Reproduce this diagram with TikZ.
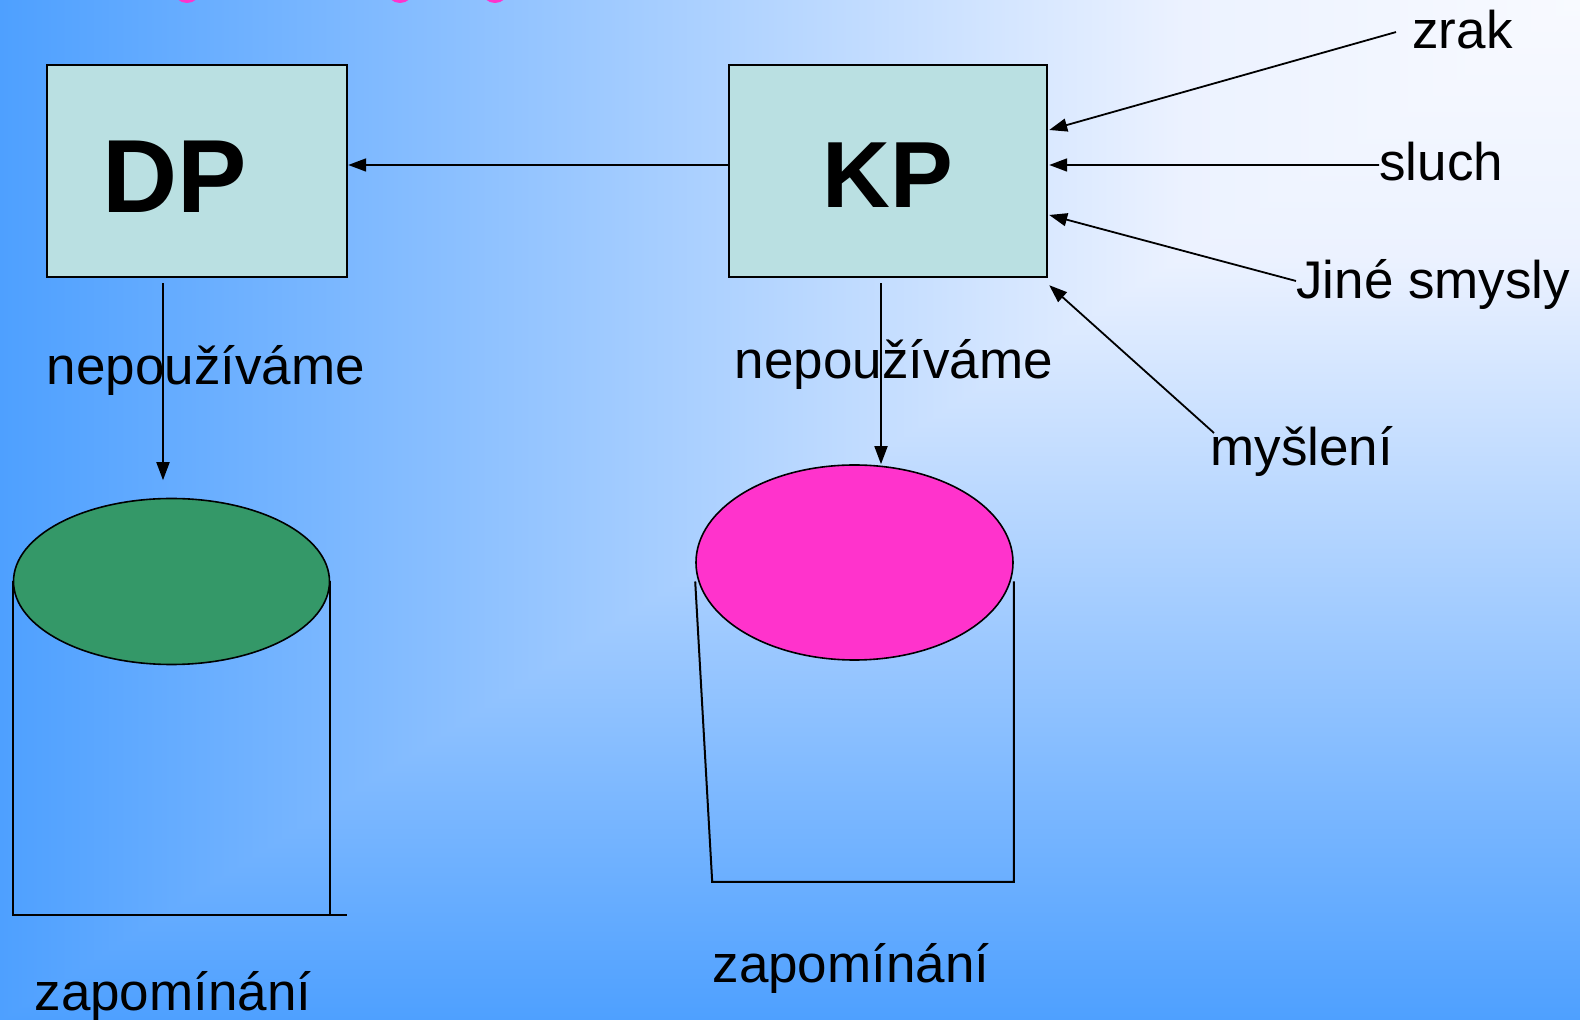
\documentclass[tikz,border=0pt]{standalone}
\usepackage{fontspec}
\setmainfont{Liberation Sans}
\usepackage{tikz}
\usetikzlibrary{shapes.geometric,calc,arrows.meta}

\definecolor{bgwhite}{RGB}{248,250,255}
\definecolor{bglight}{RGB}{236,242,255}
\definecolor{bgblue}{RGB}{78,160,255}
\definecolor{boxcyan}{RGB}{186,224,226}
\definecolor{storegreen}{RGB}{52,152,104}
\definecolor{storepink}{RGB}{255,51,204}

\pgfdeclarehorizontalshading{bgx}{100bp}{color(0bp)=(bgblue); color(25bp)=(bgblue); color(62.5bp)=(bglight); color(75bp)=(bgwhite); color(100bp)=(bgwhite)}
\pgfdeclareverticalshading{bgy}{100bp}{color(0bp)=(bgblue); color(25bp)=(bgblue); color(62.5bp)=(bglight); color(75bp)=(bgwhite); color(100bp)=(bgwhite)}

\begin{document}
\begin{tikzpicture}[x=0.5pt, y=-0.5pt,
    box_style/.style={rectangle, draw=black, line width=1.2pt, fill=boxcyan, minimum height=106pt, inner sep=0pt},
    title_style/.style={font=\fontsize{52}{58}\selectfont\bfseries, inner sep=0pt, anchor=base},
    store_style/.style={ellipse, draw=black, line width=0.8pt, inner sep=0pt},
    label_style/.style={font=\fontsize{26.5}{32}\selectfont, inner sep=0pt},
    edge_style/.style={draw=black, line width=0.9pt, -{Triangle[length=9pt,width=6.5pt]}},
    wall_style/.style={draw=black, line width=1pt}]

	\useasboundingbox (0,0) rectangle (1580,1020);
	\shade[shading=bgx] (0,0) rectangle (1580,1020);
	\shade[shading=bgy] (1580,0) -- (1580,1020) -- (0,1020) -- cycle;

	\foreach \x in {187,400,495}
		\fill[storepink] (\x,-9) ellipse (13 and 12);

	\node[box_style, minimum width=150pt] (dp) at (197,171) {};
	\node[title_style] (dp_text) at (175,213) {DP};
	\node[box_style, minimum width=159pt] (kp) at (888,171) {};
	\node[title_style, font=\fontsize{47}{53}\selectfont\bfseries] (kp_text) at (888,208) {KP};

	\node[store_style, fill=storegreen, minimum width=158pt, minimum height=83pt] (dp_store) at (171.5,581.5) {};
	\node[store_style, fill=storepink, minimum width=158.5pt, minimum height=97.5pt] (kp_store) at (854.5,562.5) {};

	\draw[wall_style] (dp_store.west) -- ++(0,333.5) coordinate (dp_base) -- ++(334,0);
	\draw[wall_style] (dp_store.east) -- (dp_store.east |- dp_base);
	\draw[wall_style] ($(kp_store.west)+(0,19)$) -- ($(kp_store.west)+(17,319.5)$)
		-- ($(kp_store.east)+(0,319.5)$) -- ($(kp_store.east)+(0,19)$);

	\node[label_style, anchor=base] (dp_unused) at (206,385) {nepoužíváme};
	\node[label_style, anchor=base] (kp_unused) at (894,379) {nepoužíváme};
	\node[label_style, anchor=base] (dp_forget) at (173,1010) {zapomínání};
	\node[label_style, anchor=base] (kp_forget) at (851,982) {zapomínání};

	\node[label_style, anchor=base west] (sight) at (1412,49) {zrak};
	\node[label_style, anchor=base west] (hearing) at (1379,181) {sluch};
	\node[label_style, anchor=base west] (senses) at (1296,299) {Jiné smysly};
	\node[label_style, anchor=base west] (thinking) at (1210,466) {myšlení};

	\coordinate (dp_drop) at ($(dp.south)+(-34,5)$);
	\coordinate (kp_drop) at ($(kp.south)+(-7,5)$);

	\draw[edge_style] ($(kp.west)+(0,-6)$) -- ($(dp.east)+(0,-6)$);
	\draw[edge_style, shorten >=8.75pt] (dp_drop) -- (dp_drop |- dp_store.north);
	\draw[edge_style] (kp_drop) -- (kp_drop |- kp_store.north);

	\draw[edge_style] ($(sight.west)+(-16,2)$) -- ($(kp.east)+(1,-41)$);
	\draw[edge_style] ($(hearing.west)+(0,3)$) -- ($(kp.east)+(1,-6)$);
	\draw[edge_style] ($(senses.west)+(0,-4)$) -- ($(kp.east)+(1,44)$);
	\draw[edge_style] ($(thinking.west)+(4,-19)$) -- ($(kp.south east)+(1,7)$);
\end{tikzpicture}
\end{document}
